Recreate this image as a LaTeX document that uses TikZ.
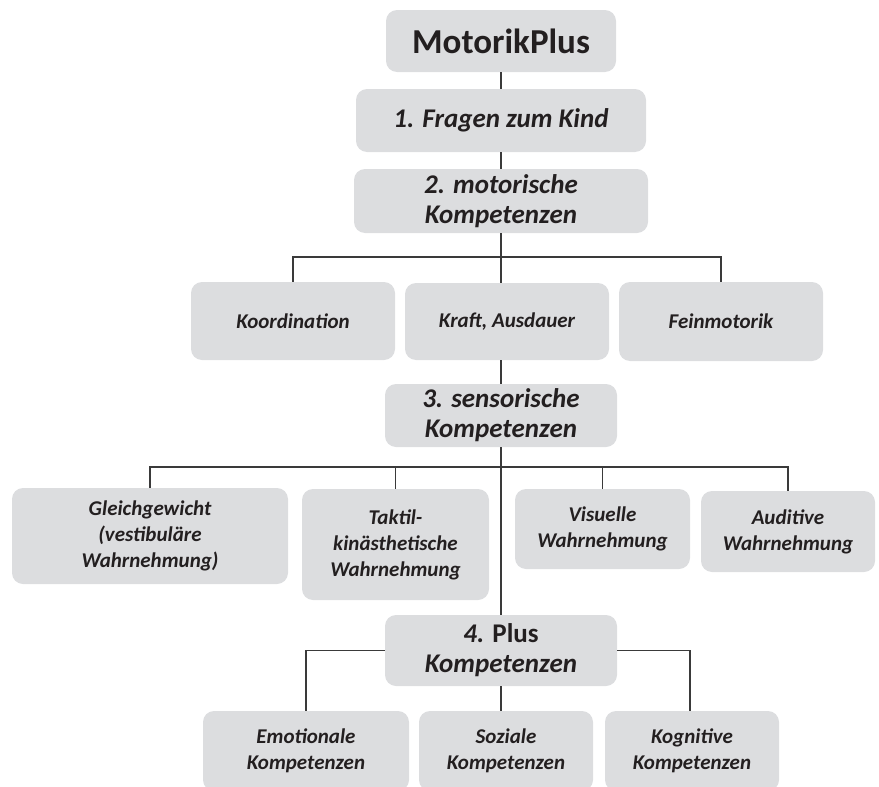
\documentclass[tikz,border=0pt]{standalone}
\usepackage{fontspec}
\setmainfont{Carlito}
\definecolor{boxfill}{HTML}{DCDDDF}
\definecolor{txt}{HTML}{231F20}
\definecolor{ln}{HTML}{3A3A3A}
\begin{document}
\begin{tikzpicture}[x=1pt,y=-1pt,
  box/.style={fill=boxfill, rounded corners=11pt, inner sep=0pt, align=center, text=txt,
    font=\bfseries\itshape\fontsize{21}{26}\selectfont},
  big/.style={font=\bfseries\itshape\fontsize{27}{30}\selectfont},
  conn/.style={draw=ln, line width=1.2pt}]
\useasboundingbox (0,0) rectangle (879,787);
\clip (0,0) rectangle (879,787);

% level 0/1
\node[box, font=\bfseries\fontsize{35}{38}\selectfont, minimum width=230pt, minimum height=62pt] (top) at (501,41) {MotorikPlus};
\node[box, big, minimum width=290pt, minimum height=63pt] (f1) at (501,120.5) {1. Fragen zum Kind};
\node[box, big, minimum width=294pt, minimum height=64pt] (f2) at (501,201) {2. motorische\\Kompetenzen};

% motor
\node[box, minimum width=204pt, minimum height=78pt] (koord) at (293,321) {Koordination};
\node[box, minimum width=204pt, minimum height=77pt] (kraft) at (507,321.5) {Kraft, Ausdauer};
\node[box, minimum width=204pt, minimum height=79pt] (fein) at (721,321.5) {Feinmotorik};

% sensory
\node[box, big, minimum width=232pt, minimum height=63pt] (sens) at (501,415.5) {3. sensorische\\Kompetenzen};
\node[box, minimum width=276pt, minimum height=96pt] (gleich) at (150,536) {Gleichgewicht\\(vestibuläre\\Wahrnehmung)};
\node[box, minimum width=187pt, minimum height=111pt] (taktil) at (395.5,544.5) {Taktil-\\kinästhetische\\Wahrnehmung};
\node[box, minimum width=175pt, minimum height=80pt] (vis) at (602.5,529) {Visuelle\\Wahrnehmung};
\node[box, minimum width=174pt, minimum height=81pt] (aud) at (788,531.5) {Auditive\\Wahrnehmung};

% plus
\node[box, big, minimum width=232pt, minimum height=71pt] (plus) at (501,650.5) {4. {\upshape Plus}\\Kompetenzen};
\node[box, minimum width=206pt, minimum height=80pt] (emo) at (306,751) {Emotionale\\Kompetenzen};
\node[box, minimum width=174pt, minimum height=80pt] (soz) at (506,751) {Soziale\\Kompetenzen};
\node[box, minimum width=174pt, minimum height=80pt] (kog) at (692,751) {Kognitive\\Kompetenzen};

\coordinate (bus1) at (501,257);
\coordinate (bus2) at (501,467);

% connectors
\draw[conn] (top.south) -- (f1.north);
\draw[conn] (f1.south) -- (f2.north);
\draw[conn] (f2.south) -- (f2.south |- kraft.north);
\draw[conn] (koord.north) -- (koord.north |- bus1) -- (fein.north |- bus1) -- (fein.north);
\draw[conn] (kraft.south -| f2.south) -- (sens.north);
\draw[conn] (sens.south) -- (plus.north);
\draw[conn] (gleich.north) -- (gleich.north |- bus2) -- (aud.north |- bus2) -- (aud.north);
\draw[conn] (taktil.north) -- (taktil.north |- bus2);
\draw[conn] (vis.north) -- (vis.north |- bus2);
\draw[conn] (plus.west) -| (emo.north);
\draw[conn] (plus.east) -| ([xshift=-2pt]kog.north);
\draw[conn] (plus.south) -- (plus.south |- soz.north);
\end{tikzpicture}
\end{document}
